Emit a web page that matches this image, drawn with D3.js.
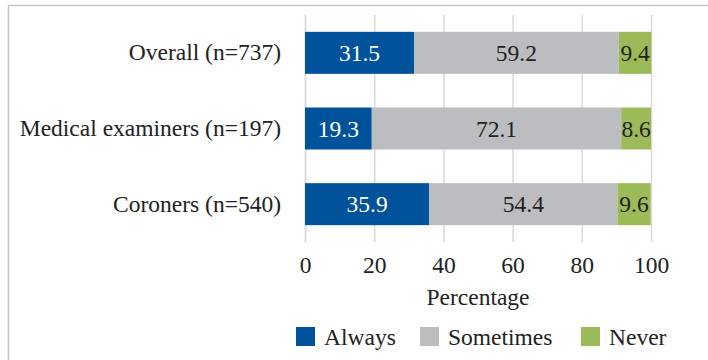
<!DOCTYPE html>
<html>
<head>
<meta charset="utf-8">
<script src="https://cdn.jsdelivr.net/npm/d3@7"></script>
<style>
  html, body { margin: 0; padding: 0; background: #fff; }
  svg { display: block; }
  svg text { font-family: "Liberation Serif", "Tinos", "Times New Roman", "DejaVu Serif", serif !important; }
</style>
</head>
<body>
<svg id="chart" width="708" height="360"></svg>
<script>
// Groups (top to bottom)
const categories = ["Overall (n=737)", "Medical examiners (n=197)", "Coroners (n=540)"];
// Response shares, percent
const always    = [31.5, 19.3, 35.9];
const sometimes = [59.2, 72.1, 54.4];
const never     = [9.4, 8.6, 9.6];
const seriesNames = ["Always", "Sometimes", "Never"];
const xTicks = [0, 20, 40, 60, 80, 100];

const colors = { Always: "#00529b", Sometimes: "#bcbdc0", Never: "#9bbb59" };
const labelColors = { Always: "#ffffff", Sometimes: "#222222", Never: "#222222" };

const svg = d3.select("#chart");
const W = 708, H = 360;

// outer frame
svg.append("rect")
  .attr("x", 8.5).attr("y", 5.5)
  .attr("width", W + 10).attr("height", H + 10)
  .attr("fill", "#fff").attr("stroke", "#c6c6c6").attr("stroke-width", 1.5);

const margin = { left: 305, right: 57, top: 15, bottom: 118 };
const x = d3.scaleLinear().domain([0, 100]).range([margin.left, W - margin.right]);
const y = d3.scaleBand().domain(categories)
  .range([margin.top, H - margin.bottom])
  .paddingInner(0.445).paddingOuter(0.2225);

const fontSize = 23.5;

// vertical gridlines
const grid = svg.append("g")
  .attr("transform", `translate(0,${H - margin.bottom})`)
  .call(d3.axisBottom(x).tickValues(xTicks).tickSize(-(H - margin.bottom - margin.top)).tickFormat(""));
grid.select(".domain").remove();
grid.selectAll(".tick line").attr("stroke", "#d9d9d9").attr("stroke-width", 1.5);

// tick labels
const xAxis = svg.append("g")
  .attr("transform", `translate(0,${H - margin.bottom})`)
  .call(d3.axisBottom(x).tickValues(xTicks).tickSize(0).tickPadding(14).tickFormat(d3.format("d")));
xAxis.attr("font-family", null);
xAxis.select(".domain").remove();
xAxis.selectAll("text").attr("font-size", fontSize).attr("fill", "#222");

// category axis
const yAxis = svg.append("g")
  .attr("transform", `translate(${margin.left},0)`)
  .call(d3.axisLeft(y).tickSize(0).tickPadding(24));
yAxis.attr("font-family", null);
yAxis.select(".domain").attr("stroke", "#d9d9d9").attr("stroke-width", 1.5);
yAxis.selectAll("text").attr("font-size", fontSize).attr("fill", "#222");

// stacked segments
const rows = categories.map((c, i) => ({ cat: c, Always: always[i], Sometimes: sometimes[i], Never: never[i] }));
const stack = d3.stack().keys(seriesNames)(rows);

const layers = svg.append("g").selectAll("g")
  .data(stack).join("g")
  .attr("fill", d => colors[d.key]);

layers.selectAll("rect")
  .data(d => d.map(s => ({ key: d.key, s })))
  .join("rect")
  .attr("x", d => x(d.s[0]))
  .attr("width", d => x(d.s[1]) - x(d.s[0]))
  .attr("y", d => y(d.s.data.cat))
  .attr("height", y.bandwidth());

layers.selectAll("text")
  .data(d => d.map(s => ({ key: d.key, s })))
  .join("text")
  .attr("x", d => (x(d.s[0]) + x(d.s[1])) / 2)
  .attr("y", d => y(d.s.data.cat) + y.bandwidth() / 2)
  .attr("dy", "0.35em")
  .attr("text-anchor", "middle")
  .attr("font-size", fontSize)
  .attr("fill", d => labelColors[d.key])
  .text(d => d.s.data[d.key].toFixed(1));

// axis title
svg.append("text")
  .attr("x", x(50)).attr("y", 297).attr("dy", "0.35em")
  .attr("text-anchor", "middle")
  .attr("font-size", fontSize).attr("fill", "#222")
  .text("Percentage");

// legend
const legendX = [296, 420, 581];
const legend = svg.append("g").selectAll("g")
  .data(seriesNames).join("g")
  .attr("transform", (d, i) => `translate(${legendX[i]},327)`);
legend.append("rect")
  .attr("width", 19).attr("height", 19)
  .attr("fill", d => colors[d]);
legend.append("text")
  .attr("x", 28).attr("y", 10).attr("dy", "0.35em")
  .attr("font-size", fontSize).attr("fill", "#222")
  .text(d => d);
</script>
</body>
</html>
